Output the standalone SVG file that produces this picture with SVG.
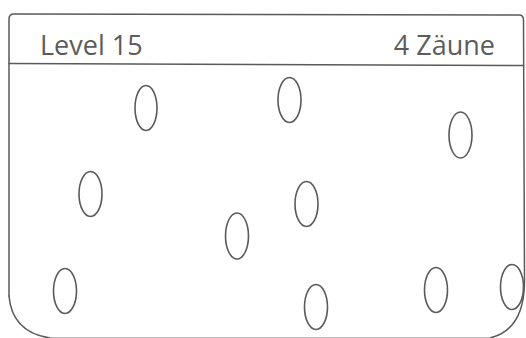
<svg xmlns="http://www.w3.org/2000/svg" width="526" height="338" viewBox="0 0 526 338">
  <style>
    .frame { fill: none; stroke: #5a5a5a; stroke-width: 1.5; stroke-linecap: round; }
    .fence { fill: none; stroke: #5a5a5a; stroke-width: 1.6; }
    .label { font-family: "Open Sans", "Liberation Sans", sans-serif; font-size: 27px; fill: #5c5c5c; }
  </style>
  <rect width="526" height="338" fill="#ffffff"/>
  <g id="frame">
    <path class="frame" d="M 9,296 L 9,19 Q 9,14 14,14 L 519,15 Q 523.5,15 523.5,20 L 524.5,282 Q 524,330 490,338"/>
    <path class="frame" d="M 9,296 Q 12,332 50,338"/>
    <path class="frame" d="M 9,63.5 L 523.5,65.5"/>
    <path d="M 50,337.5 L 490,337.5" fill="none" stroke="#bbbbbb" stroke-width="1"/>
  </g>
  <g id="header">
    <text class="label" x="40" y="55">Level 15</text>
    <text class="label" x="495" y="55" text-anchor="end">4 Zäune</text>
  </g>
  <g id="fences">
    <ellipse id="f1" class="fence" cx="146" cy="108" rx="11" ry="22.5"/>
    <ellipse id="f2" class="fence" cx="289.5" cy="100" rx="11.5" ry="22.5"/>
    <ellipse id="f3" class="fence" cx="460.5" cy="135" rx="11.5" ry="23"/>
    <ellipse id="f4" class="fence" cx="90.5" cy="194" rx="11.5" ry="22.5"/>
    <ellipse id="f5" class="fence" cx="306.5" cy="204" rx="11.5" ry="22.5"/>
    <ellipse id="f6" class="fence" cx="237" cy="236" rx="11.5" ry="23"/>
    <ellipse id="f7" class="fence" cx="65" cy="291" rx="11.5" ry="22.5"/>
    <ellipse id="f8" class="fence" cx="316" cy="307" rx="11.5" ry="22.5"/>
    <ellipse id="f9" class="fence" cx="436" cy="290" rx="11.5" ry="22.5"/>
    <ellipse id="f10" class="fence" cx="512" cy="287" rx="11.5" ry="22.5"/>
  </g>
</svg>
